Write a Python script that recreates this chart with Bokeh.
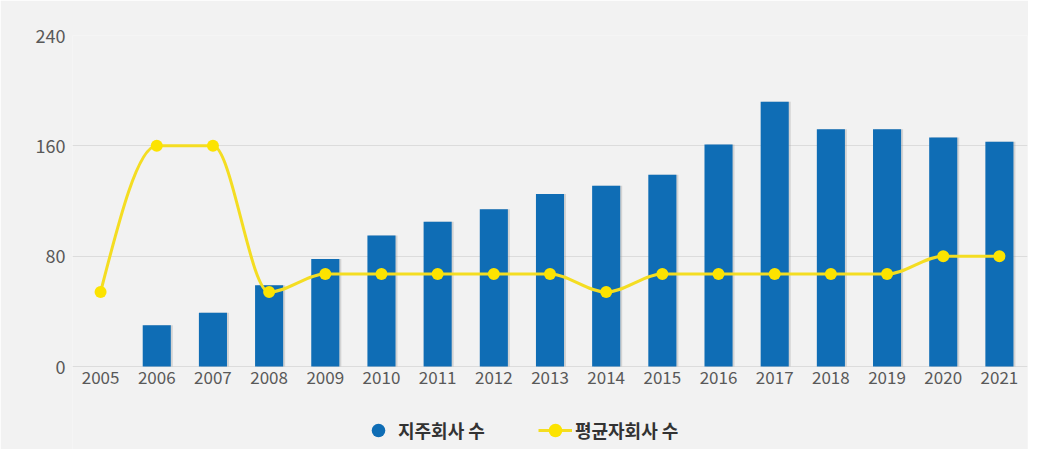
import numpy as np
from bokeh.plotting import figure
from bokeh.models import ColumnDataSource, Range1d, FixedTicker, Legend, LegendItem
from bokeh.transform import dodge
from bokeh.embed import file_html
from bokeh.resources import INLINE

# ---- data ----
years = ["2005", "2006", "2007", "2008", "2009", "2010", "2011", "2012", "2013",
         "2014", "2015", "2016", "2017", "2018", "2019", "2020", "2021"]
holding_companies = [0, 30, 39, 59, 78, 95, 105, 114, 125, 131, 139, 161, 192, 172, 172, 166, 163]
avg_subsidiaries = [54, 160, 160, 54, 67, 67, 67, 67, 67, 54, 67, 67, 67, 67, 67, 80, 80]
y_ticks = [0, 80, 160, 240]
label_bar = "지주회사 수"
label_line = "평균자회사 수"

BLUE = "#0f6db5"
YELLOW_LINE = "#f4dd22"
YELLOW_DOT = "#fce300"
BG = "#f2f2f2"
FONT = "Noto Sans CJK KR"

# layout (pixels)
W, H = 1028, 449
TOP, LEFT = 35, 72
ZERO_PX = 366          # pixel row of value 0
Y_MAX = 240
y_min = -Y_MAX * (H - ZERO_PX) / (ZERO_PX - TOP)   # room below 0 for labels/legend

xs = list(range(len(years)))
src = ColumnDataSource(dict(x=xs, bars=holding_companies, avg=avg_subsidiaries))

p = figure(width=W, height=H, output_backend="svg", toolbar_location=None,
           x_range=Range1d(-0.5, len(years) - 0.5), y_range=Range1d(y_min, Y_MAX),
           min_border_left=LEFT, min_border_right=1, min_border_top=TOP, min_border_bottom=0)
p.background_fill_color = BG
p.border_fill_color = BG
p.outline_line_color = None

# bar shadow + bars
p.vbar(x=dodge("x", 0.035), top="bars", bottom=0, width=0.5, source=src,
       fill_color="#9a9a9a", fill_alpha=0.35, line_color=None)
p.vbar(x="x", top="bars", bottom=0, width=0.5, source=src, fill_color=BLUE, line_color=None)

# smooth (monotone cubic) line through the average points
def monotone_tangents(x, y):
    x = np.asarray(x, float)
    y = np.asarray(y, float)
    n = len(x)
    h = np.diff(x)
    s = np.diff(y) / h
    t = np.zeros(n)
    for i in range(1, n - 1):
        h0, h1 = h[i - 1], h[i]
        s0, s1 = s[i - 1], s[i]
        pp = (s0 * h1 + s1 * h0) / (h0 + h1)
        t[i] = (np.sign(s0) + np.sign(s1)) * min(abs(s0), abs(s1), 0.5 * abs(pp))
    t[0] = (3 * s[0] - t[1]) / 2
    t[-1] = (3 * s[-1] - t[-2]) / 2
    return t

xa = np.asarray(xs, float)
ya = np.asarray(avg_subsidiaries, float)
tan = monotone_tangents(xa, ya)
dx = np.diff(xa)
bz = ColumnDataSource(dict(
    x0=xa[:-1], y0=ya[:-1], x1=xa[1:], y1=ya[1:],
    cx0=xa[:-1] + dx / 3, cy0=ya[:-1] + tan[:-1] * dx / 3,
    cx1=xa[1:] - dx / 3, cy1=ya[1:] - tan[1:] * dx / 3,
))
p.bezier(x0="x0", y0="y0", x1="x1", y1="y1", cx0="cx0", cy0="cy0", cx1="cx1", cy1="cy1",
         source=bz, line_color=YELLOW_LINE, line_width=3)
dots = p.scatter(x="x", y="avg", source=src, marker="circle", size=12,
                 fill_color=YELLOW_DOT, line_color=None)

# legend proxies (NaN data: nothing drawn in the plot, only in the legend)
leg_blue = p.scatter(x=[np.nan], y=[np.nan], marker="circle", fill_color=BLUE, line_color=None)
leg_line = p.line(x=[np.nan, np.nan], y=[np.nan, np.nan], line_color=YELLOW_LINE, line_width=3)

legend = Legend(items=[LegendItem(label=label_bar, renderers=[leg_blue]),
                       LegendItem(label=label_line, renderers=[leg_line, dots])],
                orientation="horizontal", location=(289, 1),
                glyph_width=34, glyph_height=36, label_standoff=3, spacing=53,
                padding=0, margin=0,
                label_text_font=FONT, label_text_font_size="18px",
                label_text_font_style="bold", label_text_color="#333333",
                background_fill_alpha=0, border_line_alpha=0)
p.add_layout(legend)

# axes
p.xaxis.fixed_location = 0
p.xaxis.ticker = FixedTicker(ticks=xs)
p.xaxis.major_label_overrides = {i: y for i, y in enumerate(years)}
p.yaxis.ticker = FixedTicker(ticks=y_ticks)
for ax in (p.xaxis[0], p.yaxis[0]):
    ax.axis_line_color = None
    ax.major_tick_line_color = None
    ax.minor_tick_line_color = None
    ax.major_tick_in = 0
    ax.major_tick_out = 0
    ax.major_label_text_font = FONT
    ax.major_label_text_color = "#595959"
p.xaxis.major_label_text_font_size = "17px"
p.xaxis.major_label_standoff = 4
p.yaxis.major_label_text_font_size = "18px"
p.yaxis.major_label_standoff = 7

p.xgrid.grid_line_color = None
p.ygrid.grid_line_color = "#dcdcdc"
p.ygrid.grid_line_width = 1

open("out.html", "w").write(file_html(p, INLINE))
